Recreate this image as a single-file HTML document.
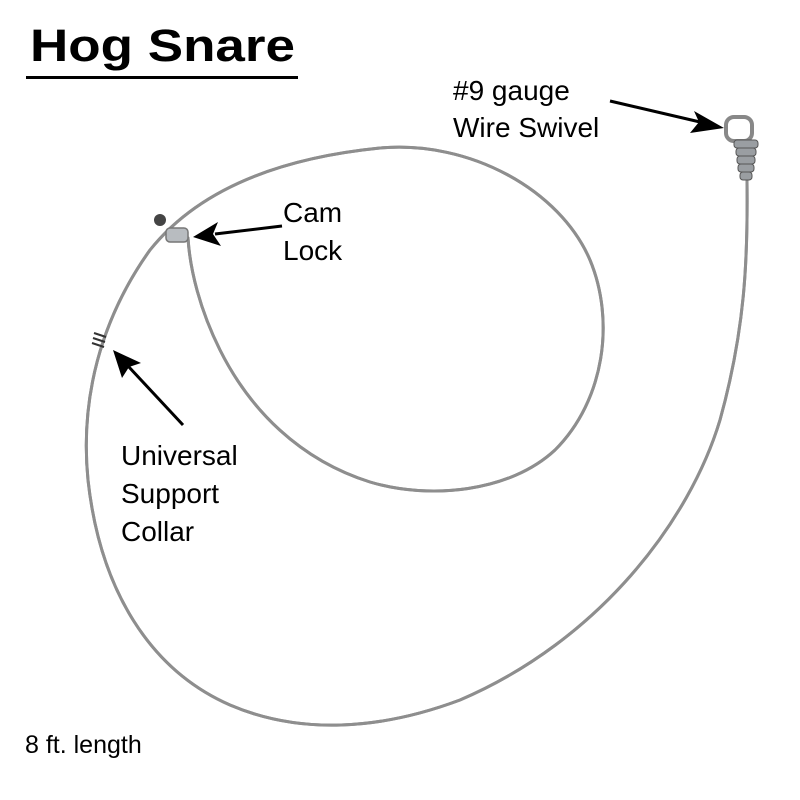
<!DOCTYPE html>
<html><head><style>html,body{margin:0;padding:0;background:#fff}svg{display:block}</style></head><body>
<svg width="800" height="800" viewBox="0 0 800 800" xmlns="http://www.w3.org/2000/svg" font-family="Liberation Sans, Arial, sans-serif">
<text x="30" y="61" font-size="45" font-weight="bold" textLength="265" lengthAdjust="spacingAndGlyphs">Hog Snare</text>
<rect x="26" y="76" width="272" height="3" fill="#000"/>
<g fill="none" stroke-linecap="round">
<path id="w" d="M747 180 C748 260 745 330 720 420 C690 520 600 640 460 700 C380 730 300 735 230 705 C150 670 100 590 88 480 C80 400 100 320 150 250 C190 200 260 160 380 148 C470 140 560 190 590 260 C615 320 605 400 555 450 C510 492 430 500 370 482 C300 460 250 410 220 350 C200 310 190 270 188 238" stroke="#8e8e8e" stroke-width="3"/>
<use href="#w" stroke="#c4c4c4" stroke-width="1"/>
</g>
<circle cx="160" cy="220" r="6" fill="#444"/>
<rect x="166" y="228" width="22" height="14" rx="4" fill="#b8bcc0" stroke="#777" stroke-width="1.5"/>
<g stroke="#333" stroke-width="2">
<line x1="94" y1="333" x2="106" y2="337"/><line x1="93" y1="338" x2="105" y2="342"/><line x1="92" y1="343" x2="104" y2="347"/>
</g>
<rect x="726" y="117" width="26" height="24" rx="8" fill="none" stroke="#888" stroke-width="4"/>
<g fill="#9a9ea2" stroke="#555" stroke-width="1">
<rect x="734" y="140" width="24" height="8" rx="3"/>
<rect x="736" y="148" width="20" height="8" rx="3"/>
<rect x="737" y="156" width="18" height="8" rx="3"/>
<rect x="738" y="164" width="16" height="8" rx="3"/>
<rect x="740" y="172" width="12" height="8" rx="3"/>
</g>
<g stroke="#000" stroke-width="3">
<line x1="610" y1="101" x2="700" y2="122"/>
<line x1="282" y1="226" x2="215" y2="234"/>
<line x1="183" y1="425" x2="128" y2="366"/>
</g>
<polygon points="724,128 694,111 699,122 690,133" fill="#000"/>
<polygon points="193,237 218,222 213,234 221,246" fill="#000"/>
<polygon points="113,350 122,378 129,367 141,363" fill="#000"/>
<g font-size="28" fill="#000">
<text x="453" y="100">#9 gauge</text>
<text x="453" y="137">Wire Swivel</text>
<text x="283" y="222">Cam</text>
<text x="283" y="260">Lock</text>
<text x="121" y="465">Universal</text>
<text x="121" y="503">Support</text>
<text x="121" y="541">Collar</text>
</g>
<text x="25" y="753" font-size="25">8 ft. length</text>
</svg>
</body></html>
